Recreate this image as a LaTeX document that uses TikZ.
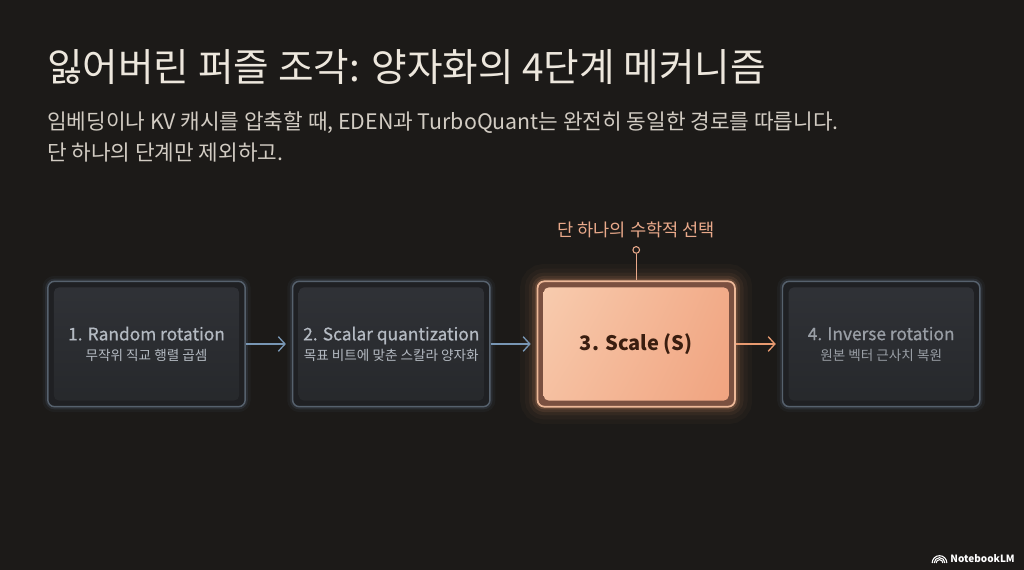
\documentclass[tikz,border=0pt]{standalone}
\usepackage{fontspec}
\setmainfont{Noto Sans CJK KR}
\newfontfamily\semibold[FakeBold=0.7]{Noto Sans CJK KR}
\usetikzlibrary{positioning, calc, arrows.meta, shadings}

\definecolor{bgc}{HTML}{1C1A18}
\definecolor{titlec}{HTML}{EDE7DD}
\definecolor{subc}{HTML}{D2CCC3}
\definecolor{frameblue}{HTML}{56616D}
\definecolor{glowblue}{HTML}{6E8CAE}
\definecolor{gapdark}{HTML}{1F2023}
\definecolor{paneltop}{HTML}{303237}
\definecolor{panelbot}{HTML}{26282B}
\definecolor{stagetext}{HTML}{B4BAC2}
\definecolor{arrowblue}{HTML}{7896B4}
\definecolor{peachborder}{HTML}{EDB898}
\definecolor{brownring}{HTML}{7A5040}
\definecolor{peachlight}{HTML}{F8CDB0}
\definecolor{peachdark}{HTML}{F0A27E}
\definecolor{scaletext}{HTML}{3A1E10}
\definecolor{labelorange}{HTML}{E9A98A}
\definecolor{gloworange}{HTML}{E89A70}

\begin{document}
\begin{tikzpicture}[
    x=0.75pt, y=-0.75pt,
    stage/.style={draw=frameblue, line width=1.1pt, rounded corners=5pt, fill=gapdark,
        minimum width=148pt, minimum height=94pt, inner sep=0pt, align=center,
        text=stagetext,
        preaction={draw=glowblue, line width=8pt, opacity=.06},
        preaction={draw=glowblue, line width=4pt, opacity=.13},
        path picture={\shade[top color=paneltop, bottom color=panelbot, rounded corners=4pt]
            ([shift={(4.5pt,-4.5pt)}]path picture bounding box.north west) rectangle
            ([shift={(-4.5pt,4.5pt)}]path picture bounding box.south east);}},
    chosen/.style={draw=peachborder, line width=1.3pt, rounded corners=5pt, fill=brownring,
        minimum width=148pt, minimum height=94pt, inner sep=0pt, align=center,
        text=scaletext,
        preaction={draw=gloworange, line width=26pt, opacity=.03},
        preaction={draw=gloworange, line width=19pt, opacity=.04},
        preaction={draw=gloworange, line width=13pt, opacity=.06},
        preaction={draw=gloworange, line width=8pt, opacity=.10},
        preaction={draw=gloworange, line width=4pt, opacity=.18},
        path picture={\shade[upper left=peachlight, upper right=peachdark!80!peachlight,
            lower left=peachlight!70!peachdark, lower right=peachdark, rounded corners=4pt]
            ([shift={(4.5pt,-4.5pt)}]path picture bounding box.north west) rectangle
            ([shift={(-4.5pt,4.5pt)}]path picture bounding box.south east);}},
    flow/.style={draw=arrowblue, line width=1pt, -{Straight Barb[length=5pt,width=11pt]}, shorten >=4.5pt},
    hotflow/.style={flow, draw=gloworange}
]

% background
\fill[bgc] (0,0) rectangle (1024,570);
\useasboundingbox (0,0) rectangle (1024,570);

% heading
\node[anchor=west, inner sep=0pt, text=titlec, font=\fontsize{29}{32}\selectfont] (title) at (47,67)
    {잃어버린 퍼즐 조각: 양자화의 4단계 메커니즘};
\node[anchor=west, inner sep=0pt, text=subc, font=\fontsize{16}{19}\selectfont] (subone) at (47,123)
    {임베딩이나 KV 캐시를 압축할 때, EDEN과 TurboQuant는 완전히 동일한 경로를 따릅니다.};
\node[anchor=west, inner sep=0pt, text=subc, font=\fontsize{16}{19}\selectfont] (subtwo) at (47,153)
    {단 하나의 단계만 제외하고.};

% four stages
\node[stage] (rot) at (146.5,344) {{\fontsize{13}{15}\semibold 1. Random rotation}\\[3pt]{\fontsize{10.2}{12}\selectfont 무작위 직교 행렬 곱셈}};
\node[stage, right=34.5pt of rot] (quant) {{\fontsize{13}{15}\semibold 2. Scalar quantization}\\[3pt]{\fontsize{10.2}{12}\selectfont 목표 비트에 맞춘 스칼라 양자화}};
\node[chosen, right=34.5pt of quant] (scale) {\fontsize{15}{18}\selectfont\bfseries 3. Scale (S)};
\node[stage, right=34.5pt of scale, text=stagetext!85!black] (inv) {{\fontsize{13}{15}\semibold 4. Inverse rotation}\\[3pt]{\fontsize{10.2}{12}\selectfont 원본 벡터 근사치 복원}};

% connectors
\draw[flow] (rot) -- (quant);
\draw[flow] (quant) -- (scale);
\draw[hotflow] (scale) -- (inv);

% the one choice
\node[circle, draw=labelorange, line width=0.8pt, inner sep=0pt, minimum size=5pt, above=20pt of scale.north] (pin) {};
\draw[labelorange, line width=0.9pt] (pin) -- (scale.north);
\node[text=labelorange, inner sep=0pt, font=\fontsize{13.2}{15}\selectfont, above=6pt of pin] (choice) {단 하나의 수학적 선택};

% watermark
\node[anchor=east, inner sep=0pt, text=white!88, font=\fontsize{7.5}{9}\selectfont\bfseries] (brand) at (1015,559) {NotebookLM};
\foreach \r in {2.5,4,5.5}
    \draw[white!88, line width=0.8pt] ([xshift=-8pt, yshift=-3pt]brand.west) ++(\r pt,0) arc[start angle=0, end angle=180, radius=\r pt];

\end{tikzpicture}
\end{document}
